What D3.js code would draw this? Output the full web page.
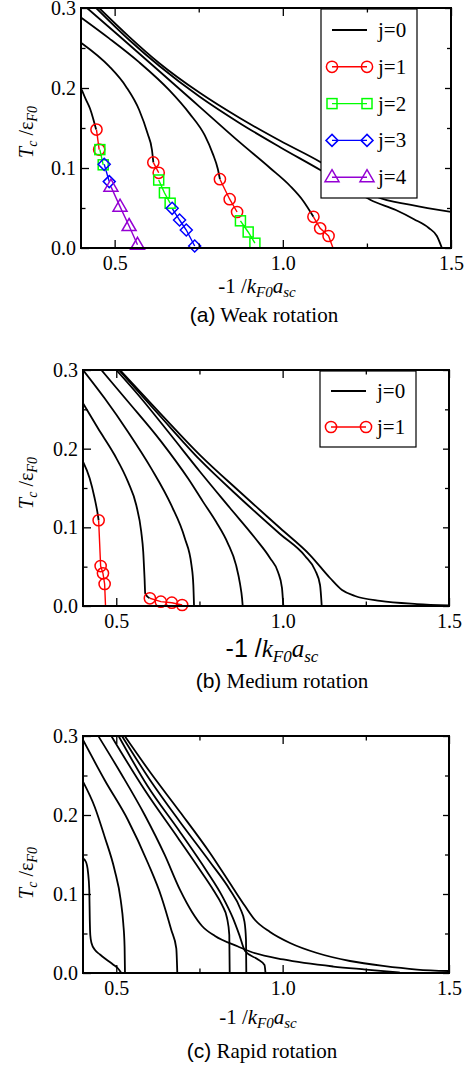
<!DOCTYPE html>
<html>
<head>
<meta charset="utf-8">
<script src="https://cdn.jsdelivr.net/npm/d3@7"></script>
<style>
body { margin: 0; background: #fff; }
svg { display: block; }
</style>
</head>
<body>
<script>
// ---- data (x = -1/kF0 a_sc, y = Tc/eF0) ----
var xMajor = [0.5, 1.0, 1.5], xMinor = [0.75, 1.25];
var yMajor = [0.0, 0.1, 0.2, 0.3], yMinor = [0.05, 0.15, 0.25];

// (a) weak rotation
var weakJ0 = [
  [[0.402,0.198],[0.414,0.186],[0.427,0.174],[0.436,0.162],[0.445,0.148]],
  [[0.402,0.256],[0.484,0.227],[0.534,0.2017],[0.573,0.1725],[0.598,0.143],[0.611,0.1225],[0.615,0.107]],
  [[0.402,0.2875],[0.4837,0.262],[0.5734,0.232],[0.6631,0.197],[0.7229,0.168],[0.7677,0.141],[0.7916,0.118],[0.8066,0.099],[0.813,0.086]],
  [[0.418,0.3],[0.5136,0.265],[0.633,0.221],[0.7528,0.1765],[0.8723,0.132],[0.962,0.1],[1.0218,0.0775],[1.0607,0.0588],[1.091,0.039]],
  [[0.454,0.3],[0.5435,0.264],[0.633,0.231],[0.753,0.194],[0.872,0.1625],[0.992,0.134],[1.1115,0.1075],[1.201,0.084],[1.279,0.064],[1.381,0.054],[1.5,0.045]],
  [[0.445,0.3],[0.5435,0.26],[0.633,0.2275],[0.753,0.189],[0.872,0.156],[0.992,0.126],[1.1115,0.0975],[1.201,0.075],[1.261,0.06],[1.336,0.0475],[1.39,0.036],[1.434,0.025],[1.458,0.015],[1.473,0.0]]
];
var weakJ1 = [
  [[0.446,0.148],[0.454,0.123]],
  [[0.615,0.107],[0.631,0.094]],
  [[0.813,0.086],[0.842,0.061],[0.864,0.045]],
  [[1.091,0.039],[1.111,0.0246],[1.136,0.015],[1.151,-0.002]]
];
var weakJ2 = [
  [[0.456,0.123],[0.466,0.104]],
  [[0.631,0.085],[0.648,0.069],[0.665,0.056]],
  [[0.874,0.034],[0.897,0.020],[0.917,0.006]]
];
var weakJ3 = [
  [[0.469,0.1046],[0.484,0.083]],
  [[0.671,0.0496],[0.693,0.035],[0.713,0.0225],[0.738,0.0025]]
];
var weakJ4 = [
  [[0.489,0.0767],[0.516,0.0517],[0.543,0.0275],[0.568,0.004]]
];

// (b) medium rotation
var mediumJ0 = [
  [[0.4,0.1834],[0.42,0.1623],[0.435,0.1369],[0.443,0.1199],[0.447,0.109]],
  [[0.4,0.2577],[0.445,0.2259],[0.495,0.1919],[0.535,0.158],[0.56,0.1284],[0.575,0.0945],[0.581,0.069],[0.585,0.0352],[0.587,0.016],[0.600,0.0098]],
  [[0.4,0.3],[0.465,0.264],[0.535,0.2216],[0.605,0.175],[0.665,0.1284],[0.706,0.086],[0.726,0.052],[0.7316,0.0267],[0.7337,0.0]],
  [[0.455,0.3],[0.535,0.26],[0.635,0.209],[0.716,0.162],[0.76,0.133],[0.80,0.107],[0.835,0.08],[0.86,0.052],[0.872,0.028],[0.878,0.01],[0.88,0.0]],
  [[0.5,0.3],[0.5713,0.2657],[0.6615,0.2186],[0.7517,0.1707],[0.8418,0.1246],[0.917,0.0864],[0.962,0.061],[0.986,0.0432],[0.998,0.0229],[1.002,0.0]],
  [[0.508,0.3],[0.6314,0.2415],[0.7517,0.1856],[0.8719,0.1373],[0.9921,0.0915],[1.0673,0.0636],[1.0973,0.0458],[1.1124,0.0267],[1.1175,0.0]],
  [[0.511,0.3],[0.6314,0.2453],[0.7517,0.1919],[0.8719,0.1449],[0.9921,0.0991],[1.0823,0.0648],[1.1424,0.0356],[1.1785,0.0203],[1.2176,0.0127],[1.2927,0.0064],[1.4039,0.0025],[1.5,0.0009]]
];
var mediumJ1 = [
  [[0.447,0.109],[0.453,0.0508],[0.46,0.0415],[0.465,0.028],[0.468,-0.003]],
  [[0.601,0.0098],[0.634,0.0055],[0.667,0.0042],[0.698,0.0013]]
];

// (c) rapid rotation
var rapidJ0 = [
  [[0.4,0.1452],[0.409,0.1405],[0.415,0.1278],[0.4189,0.1051],[0.4204,0.0671],[0.4219,0.0481],[0.4255,0.038],[0.4361,0.0291],[0.4511,0.0234],[0.47,0.0171],[0.4902,0.0108],[0.5052,0.0057],[0.5142,0.0006]],
  [[0.4,0.2422],[0.435,0.2105],[0.465,0.1725],[0.495,0.1304],[0.5133,0.0924],[0.521,0.0629],[0.525,0.0333],[0.5262,0.0]],
  [[0.4,0.295],[0.465,0.2443],[0.535,0.1937],[0.5954,0.1389],[0.6354,0.0966],[0.6654,0.0544],[0.6804,0.0312],[0.6834,0.0]],
  [[0.4472,0.2991],[0.5151,0.2519],[0.5855,0.2],[0.6456,0.1494],[0.6916,0.1051],[0.7276,0.0772],[0.7577,0.0595],[0.7968,0.0468],[0.8659,0.0335],[0.9019,0.0272],[1.002,0.0171],[1.1523,0.0082],[1.2506,0.0044],[1.3528,0.0006]],
  [[0.507,0.3],[0.5935,0.237],[0.689,0.18],[0.77,0.13],[0.82,0.096],[0.85,0.07],[0.87,0.048],[0.887,0.0278],[0.926,0.0171],[0.9455,0.0101],[0.9485,0.0]],
  [[0.4851,0.3],[0.5855,0.2316],[0.6855,0.1709],[0.7517,0.1304],[0.7917,0.1051],[0.8178,0.0861],[0.8328,0.0696],[0.8397,0.0481],[0.8409,0.0]],
  [[0.517,0.3],[0.6014,0.2443],[0.6916,0.1911],[0.7817,0.1405],[0.8418,0.1051],[0.8719,0.0823],[0.8854,0.0646],[0.8899,0.0418],[0.8908,0.0]],
  [[0.5253,0.3],[0.6014,0.2544],[0.6916,0.2038],[0.7817,0.1519],[0.8509,0.1076],[0.8869,0.0848],[0.917,0.0671],[0.9621,0.0519],[1.0222,0.038],[1.1033,0.0253],[1.2025,0.0152],[1.3017,0.0089],[1.4039,0.0044],[1.5,0.0025]]
];

var jColors = ["#000000", "#ff0000", "#00ff00", "#0000ff", "#9400d3"];

var panels = [
  {id: "a", left: 81, right: 451, top: 8, bottom: 248,
   j0: weakJ0, jn: [weakJ1, weakJ2, weakJ3, weakJ4],
   legend: {x: 321, y: 9, w: 96, h: 189, row0: 30, gap: 36.8, n: 5},
   yLabelY: 132, xLabel: {x: 257, y: 293, big: false},
   caption: {x: 264, y: 322, tag: "(a)", text: " Weak rotation"}},
  {id: "b", left: 83, right: 449, top: 370, bottom: 606,
   j0: mediumJ0, jn: [mediumJ1],
   legend: {x: 320, y: 371, w: 96, h: 76, row0: 391, gap: 36, n: 2},
   yLabelY: 483, xLabel: {x: 272, y: 657, big: true},
   caption: {x: 282, y: 688, tag: "(b)", text: " Medium rotation"}},
  {id: "c", left: 83, right: 449, top: 736, bottom: 973,
   j0: rapidJ0, jn: [],
   legend: null,
   yLabelY: 873, xLabel: {x: 258, y: 1024, big: false},
   caption: {x: 262, y: 1058, tag: "(c)", text: " Rapid rotation"}}
];

var serif = "'Liberation Serif', 'Times New Roman', Times, 'DejaVu Serif', serif",
    sans = "'Liberation Sans', Arial, Helvetica, sans-serif";

var svg = d3.select("body").append("svg")
    .attr("width", 469)
    .attr("height", 1072);

function drawMarker(g, j, cx, cy) {
    var c = jColors[j];
    if (j == 1) {
        g.append("circle").attr("cx", cx).attr("cy", cy).attr("r", 5.6)
            .attr("fill", "none").attr("stroke", c).attr("stroke-width", 1.5);
    } else if (j == 2) {
        g.append("rect").attr("x", cx - 5).attr("y", cy - 5).attr("width", 10).attr("height", 10)
            .attr("fill", "none").attr("stroke", c).attr("stroke-width", 1.5);
    } else if (j == 3) {
        g.append("path").attr("d", "M" + cx + "," + (cy - 6) + "L" + (cx + 6) + "," + cy + "L" + cx + "," + (cy + 6) + "L" + (cx - 6) + "," + cy + "Z")
            .attr("fill", "none").attr("stroke", c).attr("stroke-width", 1.5);
    } else if (j == 4) {
        g.append("path").attr("d", "M" + cx + "," + (cy - 7.5) + "L" + (cx + 7) + "," + (cy + 4.5) + "L" + (cx - 7) + "," + (cy + 4.5) + "Z")
            .attr("fill", "none").attr("stroke", c).attr("stroke-width", 1.5);
    }
}

panels.forEach(function (p) {
    var x = d3.scaleLinear().domain([0.4, 1.5]).range([p.left, p.right]);
    var y = d3.scaleLinear().domain([0, 0.3]).range([p.bottom, p.top]);
    var g = svg.append("g");

    svg.append("clipPath").attr("id", "clip-" + p.id)
        .append("rect")
        .attr("x", p.left).attr("y", p.top)
        .attr("width", p.right - p.left).attr("height", p.bottom - p.top);

    var smooth = d3.line().x(d => x(d[0])).y(d => y(d[1])).curve(d3.curveMonotoneX);
    var straight = d3.line().x(d => x(d[0])).y(d => y(d[1]));

    var plot = g.append("g").attr("clip-path", "url(#clip-" + p.id + ")");
    plot.selectAll(".j0")
        .data(p.j0)
        .enter().append("path")
        .attr("class", "j0")
        .attr("d", smooth)
        .attr("fill", "none")
        .attr("stroke", "#000")
        .attr("stroke-width", 1.8);

    p.jn.forEach(function (set, k) {
        var j = k + 1;
        plot.selectAll(".j" + j)
            .data(set)
            .enter().append("path")
            .attr("class", "j" + j)
            .attr("d", straight)
            .attr("fill", "none")
            .attr("stroke", jColors[j])
            .attr("stroke-width", 1.4);
    });
    var marks = g.append("g");
    p.jn.forEach(function (set, k) {
        set.forEach(function (s) {
            s.forEach(function (d) {
                if (d[1] >= 0) drawMarker(marks, k + 1, x(d[0]), y(d[1]));
            });
        });
    });

    // legend
    if (p.legend) {
        var L = p.legend;
        var lg = g.append("g");
        lg.append("rect")
            .attr("x", L.x).attr("y", L.y).attr("width", L.w).attr("height", L.h)
            .attr("fill", "#fff").attr("stroke", "#000").attr("stroke-width", 1.2);
        d3.range(L.n).forEach(function (j) {
            var ry = L.row0 + j * L.gap;
            lg.append("line")
                .attr("x1", L.x + 11).attr("x2", L.x + 46)
                .attr("y1", ry).attr("y2", ry)
                .attr("stroke", jColors[j]).attr("stroke-width", j == 0 ? 1.8 : 1.4);
            if (j > 0) {
                drawMarker(lg, j, L.x + 11, ry);
                drawMarker(lg, j, L.x + 46, ry);
            }
            lg.append("text")
                .attr("x", L.x + 57).attr("y", ry + 7)
                .attr("font-family", serif)
                .style("font-family", serif).style("font-size", "21px")
                .text("j=" + j);
        });
    }

    // axes, ticks pointing inward on all four sides
    function styleAxis(sel) {
        sel.attr("font-family", serif);
        sel.select(".domain").remove();
        sel.selectAll(".tick line").attr("stroke", "#000").attr("stroke-width", 1.3);
        sel.selectAll("text").style("font-family", serif).style("font-size", "20px").attr("fill", "#000");
    }
    var fmt = d3.format(".1f");
    g.append("g").attr("transform", "translate(0," + p.bottom + ")")
        .call(d3.axisBottom(x).tickValues(xMajor).tickSize(-8).tickPadding(8).tickFormat(fmt)).call(styleAxis);
    g.append("g").attr("transform", "translate(0," + p.bottom + ")")
        .call(d3.axisBottom(x).tickValues(xMinor).tickSize(-4.5).tickFormat("")).call(styleAxis);
    g.append("g").attr("transform", "translate(0," + p.top + ")")
        .call(d3.axisTop(x).tickValues(xMajor).tickSize(-8).tickFormat("")).call(styleAxis);
    g.append("g").attr("transform", "translate(0," + p.top + ")")
        .call(d3.axisTop(x).tickValues(xMinor).tickSize(-4.5).tickFormat("")).call(styleAxis);
    g.append("g").attr("transform", "translate(" + p.left + ",0)")
        .call(d3.axisLeft(y).tickValues(yMajor).tickSize(-8).tickPadding(5).tickFormat(fmt)).call(styleAxis);
    g.append("g").attr("transform", "translate(" + p.left + ",0)")
        .call(d3.axisLeft(y).tickValues(yMinor).tickSize(-4.5).tickFormat("")).call(styleAxis);
    g.append("g").attr("transform", "translate(" + p.right + ",0)")
        .call(d3.axisRight(y).tickValues(yMajor).tickSize(-6).tickFormat("")).call(styleAxis);
    g.append("g").attr("transform", "translate(" + p.right + ",0)")
        .call(d3.axisRight(y).tickValues(yMinor).tickSize(-4).tickFormat("")).call(styleAxis);

    g.append("rect")
        .attr("x", p.left).attr("y", p.top)
        .attr("width", p.right - p.left).attr("height", p.bottom - p.top)
        .attr("fill", "none").attr("stroke", "#000").attr("stroke-width", 2);

    // y label: T_c / eps_F0
    var yl = g.append("text")
        .attr("transform", "translate(33," + p.yLabelY + ") rotate(-90)")
        .attr("text-anchor", "middle")
        .style("font-family", serif).style("font-size", "20px");
    yl.append("tspan").style("font-style", "italic").text("T");
    yl.append("tspan").attr("dy", 4).style("font-style", "italic").style("font-size", "14px").text("c");
    yl.append("tspan").attr("dy", -4).text(" /\u03b5");
    yl.append("tspan").attr("dy", 4).style("font-style", "italic").style("font-size", "14px").text("F0");

    // x label: -1 / k_F0 a_sc
    var big = p.xLabel.big, fs = big ? 25 : 21, ss = big ? 17 : 15, sd = big ? 5 : 4;
    var xl = g.append("text")
        .attr("x", p.xLabel.x).attr("y", p.xLabel.y)
        .attr("text-anchor", "middle")
        .style("font-family", serif).style("font-size", fs + "px");
    xl.append("tspan").style("font-family", big ? sans : serif).text("-1 /");
    xl.append("tspan").style("font-style", "italic").text("k");
    xl.append("tspan").attr("dy", sd).style("font-style", "italic").style("font-size", ss + "px").text("F0");
    xl.append("tspan").attr("dy", -sd).style("font-style", "italic").text("a");
    xl.append("tspan").attr("dy", sd).style("font-style", "italic").style("font-size", ss + "px").text("sc");

    // caption
    var cp = g.append("text")
        .attr("x", p.caption.x).attr("y", p.caption.y)
        .attr("text-anchor", "middle")
        .style("font-size", "21px");
    cp.append("tspan").style("font-family", sans).text(p.caption.tag);
    cp.append("tspan").style("font-family", serif).text(p.caption.text);
});
</script>
</body>
</html>
